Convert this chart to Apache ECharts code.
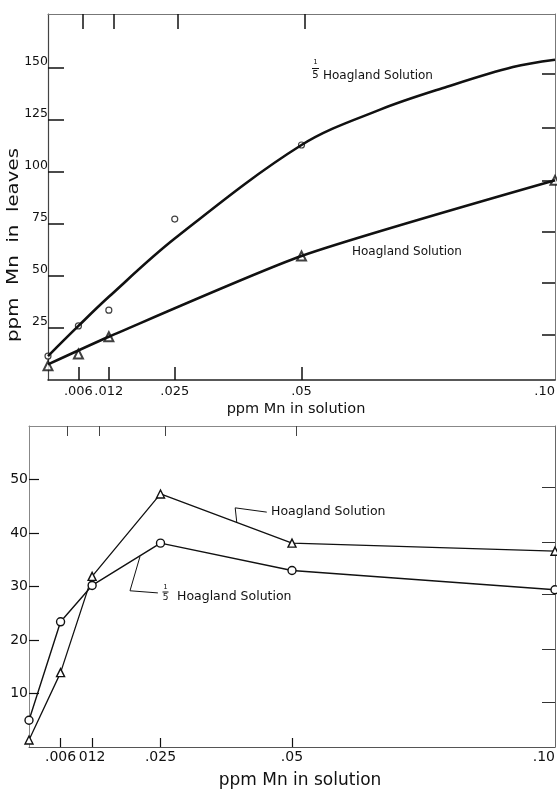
<!DOCTYPE html>
<html>
<head>
<meta charset="utf-8">
<script src="https://cdn.jsdelivr.net/npm/echarts@6/dist/echarts.min.js"></script>
<style>
  html, body { margin: 0; padding: 0; background: #fff; }
  #chart { width: 557px; height: 791px; }
</style>
</head>
<body>
<div id="chart"></div>
<script>
// ---------- Top chart: ppm Mn in leaves ----------
const topXTicks = [0.006, 0.012, 0.025, 0.05, 0.1];
const topXTickLabels = ['.006', '.012', '.025', '.05', '.10'];
const topYTicks = [25, 50, 75, 100, 125, 150];
const topYTickLabels = ['25', '50', '75', '100', '125', '150'];
const topTopTicks = [0.0069, 0.013, 0.0256, 0.0507];
const topRightTicks = [22, 47, 71.5, 96, 121.5, 147.5];

// measured points
const fifthPtsX = [0, 0.006, 0.012, 0.025, 0.05];
const fifthPtsY = [11.5, 26, 33.6, 77.4, 113];
const hoagPtsX = [0, 0.006, 0.012, 0.05, 0.1];
const hoagPtsY = [6.8, 12.5, 20.8, 59.6, 96];

// fitted curves
const fifthCurveX = [0, 0.006, 0.012, 0.025, 0.05, 0.0655, 0.0787, 0.0917, 0.1];
const fifthCurveY = [11.5, 26, 40, 68, 113, 130, 141, 150.5, 154];
const hoagCurveX = [0, 0.012, 0.05, 0.1];
const hoagCurveY = [7.5, 20.8, 59.6, 96];

// ---------- Bottom chart ----------
const botXTicks = [0.006, 0.012, 0.025, 0.05, 0.1];
const botXTickLabels = ['.006', '012', '.025', '.05', '.10'];
const botYTicks = [10, 20, 30, 40, 50];
const botYTickLabels = ['10', '20', '30', '40', '50'];
const botTopTicks = [0.0072, 0.0133, 0.0259, 0.0508];
const botRightTicks = [8.4, 18.3, 28.6, 38.3, 48.6];

const botX = [0, 0.006, 0.012, 0.025, 0.05, 0.1];
const botHoagY = [1.3, 13.9, 31.9, 47.3, 38.1, 36.6];
const botFifthY = [5.0, 23.4, 30.2, 38.1, 33.0, 29.4];

// annotation leaders (data coordinates)
const leaderHoagX = [0.0452, 0.0392, 0.0395];
const leaderHoagY = [43.9, 44.7, 42.0];
const leaderFifthX = [0.0245, 0.0192, 0.0211];
const leaderFifthY = [28.8, 29.2, 35.6];

const zip = (xs, ys) => xs.map((x, i) => [x, ys[i]]);
const lookup = (vals, labels) => (v) => {
  const i = vals.findIndex(t => Math.abs(t - v) < 1e-9);
  return i >= 0 ? labels[i] : '';
};

const INK = '#111';
const FONT = 'DejaVu Sans';

const chart = echarts.init(document.getElementById('chart'), null, { renderer: 'canvas' });

const option = {
  animation: false,
  backgroundColor: '#fff',
  textStyle: { fontFamily: FONT, color: INK },
  grid: [
    { left: 48, top: 14, width: 507, height: 366, containLabel: false, outerBoundsMode: 'none' },
    { left: 29, top: 426, width: 526, height: 321, containLabel: false, outerBoundsMode: 'none' }
  ],
  xAxis: [
    {
      gridIndex: 0, type: 'value', min: 0, max: 0.1, position: 'bottom',
      axisLine: { show: true, onZero: false, lineStyle: { color: '#222', width: 1.5 } },
      axisTick: { show: true, inside: true, length: 13, customValues: topXTicks.slice(0, 4), lineStyle: { color: INK, width: 1.5 } },
      axisLabel: { show: true, customValues: topXTicks, formatter: lookup(topXTicks, topXTickLabels), fontFamily: FONT, fontSize: 13, color: INK, margin: 5, alignMaxLabel: 'right' },
      splitLine: { show: false }
    },
    {
      gridIndex: 0, type: 'value', min: 0, max: 0.1, position: 'top',
      axisLine: { show: true, onZero: false, lineStyle: { color: '#777', width: 1 } },
      axisTick: { show: true, inside: true, length: 15, customValues: topTopTicks, lineStyle: { color: INK, width: 1.5 } },
      axisLabel: { show: false },
      splitLine: { show: false }
    },
    {
      gridIndex: 1, type: 'value', min: 0, max: 0.1, position: 'bottom',
      axisLine: { show: true, onZero: false, lineStyle: { color: '#555', width: 1 } },
      axisTick: { show: true, inside: true, length: 9, customValues: botXTicks.slice(0, 4), lineStyle: { color: INK, width: 1.2 } },
      axisLabel: { show: true, customValues: botXTicks, formatter: lookup(botXTicks, botXTickLabels), fontFamily: FONT, fontSize: 14, color: INK, margin: 3, alignMaxLabel: 'right' },
      splitLine: { show: false }
    },
    {
      gridIndex: 1, type: 'value', min: 0, max: 0.1, position: 'top',
      axisLine: { show: true, onZero: false, lineStyle: { color: '#888', width: 1 } },
      axisTick: { show: true, inside: true, length: 10, customValues: botTopTicks, lineStyle: { color: '#444', width: 1 } },
      axisLabel: { show: false },
      splitLine: { show: false }
    }
  ],
  yAxis: [
    {
      gridIndex: 0, type: 'value', min: 0, max: 176, position: 'left',
      axisLine: { show: true, onZero: false, lineStyle: { color: '#444', width: 1.2 } },
      axisTick: { show: true, inside: true, length: 16, customValues: topYTicks, lineStyle: { color: INK, width: 1.5 } },
      axisLabel: { show: true, customValues: topYTicks, formatter: lookup(topYTicks, topYTickLabels), fontFamily: FONT, fontSize: 12.5, color: INK, margin: 0, verticalAlign: 'bottom' },
      splitLine: { show: false }
    },
    {
      gridIndex: 0, type: 'value', min: 0, max: 176, position: 'right',
      axisLine: { show: true, onZero: false, lineStyle: { color: '#777', width: 1 } },
      axisTick: { show: true, inside: true, length: 13, customValues: topRightTicks, lineStyle: { color: INK, width: 1.5 } },
      axisLabel: { show: false },
      splitLine: { show: false }
    },
    {
      gridIndex: 1, type: 'value', min: 0, max: 60, position: 'left',
      axisLine: { show: true, onZero: false, lineStyle: { color: '#888', width: 1 } },
      axisTick: { show: true, inside: true, length: 10, customValues: botYTicks, lineStyle: { color: INK, width: 1.2 } },
      axisLabel: { show: true, customValues: botYTicks, formatter: lookup(botYTicks, botYTickLabels), fontFamily: FONT, fontSize: 14, color: INK, margin: 1 },
      splitLine: { show: false }
    },
    {
      gridIndex: 1, type: 'value', min: 0, max: 60, position: 'right',
      axisLine: { show: true, onZero: false, lineStyle: { color: '#666', width: 1 } },
      axisTick: { show: true, inside: true, length: 13, customValues: botRightTicks, lineStyle: { color: '#333', width: 1 } },
      axisLabel: { show: false },
      splitLine: { show: false }
    }
  ],
  series: [
    {
      name: '1/5 Hoagland curve', type: 'line', xAxisIndex: 0, yAxisIndex: 0,
      data: zip(fifthCurveX, fifthCurveY), smooth: 0.35, symbol: 'none',
      lineStyle: { color: INK, width: 2.6 }, silent: true
    },
    {
      name: 'Hoagland curve', type: 'line', xAxisIndex: 0, yAxisIndex: 0,
      data: zip(hoagCurveX, hoagCurveY), smooth: 0.2, symbol: 'none',
      lineStyle: { color: INK, width: 2.6 }, silent: true
    },
    {
      name: '1/5 Hoagland points', type: 'scatter', xAxisIndex: 0, yAxisIndex: 0,
      data: zip(fifthPtsX, fifthPtsY), symbol: 'circle', symbolSize: 6,
      itemStyle: { color: '#fff', borderColor: INK, borderWidth: 1.2 }, silent: true
    },
    {
      name: 'Hoagland points', type: 'scatter', xAxisIndex: 0, yAxisIndex: 0,
      data: zip(hoagPtsX, hoagPtsY), symbol: 'triangle', symbolSize: 9,
      itemStyle: { color: '#fff', borderColor: INK, borderWidth: 2 }, silent: true
    },
    {
      name: 'Hoagland', type: 'line', xAxisIndex: 2, yAxisIndex: 2,
      data: zip(botX, botHoagY), symbol: 'triangle', symbolSize: 8, showAllSymbol: true,
      lineStyle: { color: INK, width: 1.3 },
      itemStyle: { color: '#fff', borderColor: INK, borderWidth: 1.4 }, silent: true
    },
    {
      name: '1/5 Hoagland', type: 'line', xAxisIndex: 2, yAxisIndex: 2,
      data: zip(botX, botFifthY), symbol: 'circle', symbolSize: 8, showAllSymbol: true,
      lineStyle: { color: INK, width: 1.4 },
      itemStyle: { color: '#fff', borderColor: INK, borderWidth: 1.4 }, silent: true
    },
    {
      name: 'leader H', type: 'line', xAxisIndex: 2, yAxisIndex: 2,
      data: zip(leaderHoagX, leaderHoagY), symbol: 'none',
      lineStyle: { color: INK, width: 1 }, silent: true
    },
    {
      name: 'leader F', type: 'line', xAxisIndex: 2, yAxisIndex: 2,
      data: zip(leaderFifthX, leaderFifthY), symbol: 'none',
      lineStyle: { color: INK, width: 1 }, silent: true
    }
  ],
  graphic: [
    // top chart y title
    { type: 'text', x: 14, y: 245, rotation: Math.PI / 2, scaleX: 1.2,
      style: { text: 'ppm  Mn  in  leaves', font: '16.5px "DejaVu Sans"', fill: INK, align: 'center', verticalAlign: 'middle' } },
    // top chart x title
    { type: 'text', x: 296, y: 409,
      style: { text: 'ppm Mn in solution', font: '14.5px "DejaVu Sans"', fill: INK, align: 'center', verticalAlign: 'middle' } },
    // bottom chart x title
    { type: 'text', x: 300, y: 781,
      style: { text: 'ppm Mn in solution', font: '17px "DejaVu Sans"', fill: INK, align: 'center', verticalAlign: 'middle' } },
    // top: 1/5 Hoagland Solution
    { type: 'text', x: 315.5, y: 62, style: { text: '1', font: '7px "DejaVu Sans"', fill: INK, align: 'center', verticalAlign: 'middle' } },
    { type: 'line', shape: { x1: 312, y1: 68.5, x2: 319, y2: 68.5 }, style: { stroke: INK, lineWidth: 1 } },
    { type: 'text', x: 315.5, y: 75.5, style: { text: '5', font: '10px "DejaVu Sans"', fill: INK, align: 'center', verticalAlign: 'middle' } },
    { type: 'text', x: 323, y: 75.5, style: { text: 'Hoagland Solution', font: '12px "DejaVu Sans"', fill: INK, align: 'left', verticalAlign: 'middle' } },
    // top: Hoagland Solution
    { type: 'text', x: 352, y: 251.5, style: { text: 'Hoagland Solution', font: '12px "DejaVu Sans"', fill: INK, align: 'left', verticalAlign: 'middle' } },
    // bottom: Hoagland Solution
    { type: 'text', x: 271, y: 512, style: { text: 'Hoagland Solution', font: '12.5px "DejaVu Sans"', fill: INK, align: 'left', verticalAlign: 'middle' } },
    // bottom: 1/5 Hoagland Solution
    { type: 'text', x: 165.5, y: 587, style: { text: '1', font: '7px "DejaVu Sans"', fill: INK, align: 'center', verticalAlign: 'middle' } },
    { type: 'line', shape: { x1: 162.5, y1: 592, x2: 168.5, y2: 592 }, style: { stroke: INK, lineWidth: 1 } },
    { type: 'text', x: 165.5, y: 598, style: { text: '5', font: '9px "DejaVu Sans"', fill: INK, align: 'center', verticalAlign: 'middle' } },
    { type: 'text', x: 177, y: 597, style: { text: 'Hoagland Solution', font: '12.5px "DejaVu Sans"', fill: INK, align: 'left', verticalAlign: 'middle' } }
  ]
};

chart.setOption(option);
</script>
</body>
</html>
